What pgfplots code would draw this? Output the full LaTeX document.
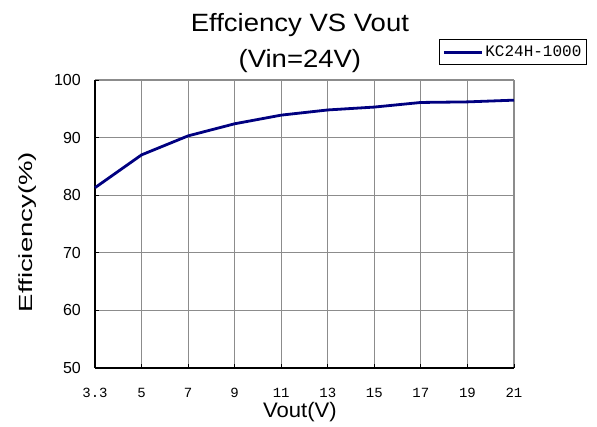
\documentclass[border=0pt]{standalone}
\usepackage{pgfplots}
\pgfplotsset{compat=1.18}
\usepackage{fontspec}
\setmainfont{Liberation Sans}
\newfontfamily\mono{Liberation Mono}
\definecolor{navyline}{HTML}{000080}
\begin{document}
\begin{tikzpicture}
\useasboundingbox (-95pt,-59pt) rectangle (502pt,368pt);
\begin{axis}[
  scale only axis,
  width=419pt, height=288pt,
  at={(0pt,0pt)}, anchor=south west,
  xmin=0, xmax=9, ymin=50, ymax=100,
  xtick={0,...,9},
  xticklabels={3.3,5,7,9,11,13,15,17,19,21},
  ytick={50,60,70,80,90,100},
  /pgf/number format/assume math mode=true,
  axis x line*=bottom, axis y line*=left,
  axis line style={black, line width=1.2pt},
  tick align=inside,
  major tick length=4pt,
  tick style={black, line width=0.8pt},
  grid=major,
  major grid style={color=black!45, line width=1.1pt},
  xticklabel style={font=\mono\fontsize{14}{14}\selectfont, anchor=base, inner sep=0pt, yshift=-30pt},
  yticklabel style={font=\fontsize{16}{16}\selectfont, anchor=east, inner sep=0pt, xshift=-14pt},
  xlabel={\scalebox{1.05}[1]{Vout(V)}},
  xlabel style={font=\fontsize{21}{21}\selectfont, at={(axis description cs:0.489,-0.1736)}, anchor=base, inner sep=0pt},
  ylabel={\scalebox{1.45}[1]{Efficiency(\%)}},
  ylabel style={font=\fontsize{19}{19}\selectfont, at={(axis description cs:-0.148,0.472)}, anchor=base, rotate=0, inner sep=0pt},
  title={\scalebox{1.1}[1]{Effciency VS Vout}},
  title style={font=\fontsize{25}{25}\selectfont, at={(axis description cs:0.489,1.149)}, anchor=base, inner sep=0pt},
  legend style={at={(axis description cs:0.821,1.052)}, anchor=south west, draw=black, line width=0.8pt,
    font=\mono\fontsize{16}{16}\selectfont, inner xsep=3pt, inner ysep=4.5pt},
  legend cell align=left,
  legend image code/.code={\draw[navyline, line width=3pt] (0pt,0pt) -- (38pt,0pt);},
  clip=false,
]
\addplot[navyline, line width=2.8pt, line join=round] coordinates {
  (0,81.3) (1,87.0) (2,90.3) (3,92.4) (4,93.9) (5,94.8) (6,95.3) (7,96.1) (8,96.2) (9,96.5)
};
\addlegendentry{KC24H-1000}
\node[font=\fontsize{25}{25}\selectfont, anchor=base, inner sep=0pt] at (axis description cs:0.489,1.0451) {\scalebox{1.1}[1]{(Vin=24V)}};
\end{axis}
\end{tikzpicture}
\end{document}
